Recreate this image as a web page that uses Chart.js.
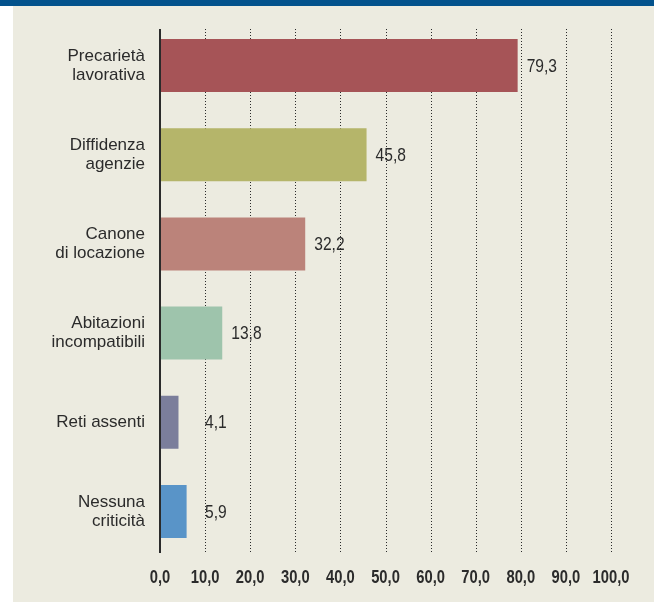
<!DOCTYPE html>
<html>
<head>
<meta charset="utf-8">
<script src="https://cdn.jsdelivr.net/npm/chart.js@4/dist/chart.umd.min.js"></script>
<style>
  html, body { margin: 0; padding: 0; background: #fff; }
  #wrap { position: relative; width: 654px; height: 603px; overflow: hidden; }
  #band { position: absolute; left: 0; top: 0; width: 654px; height: 6px; background: #03528c; }
  #panel { position: absolute; left: 13px; top: 6px; width: 641px; height: 596px; background: #ecebe0; }
  #c { position: absolute; left: 0; top: 0; }
</style>
</head>
<body>
<div id="wrap">
  <div id="band"></div>
  <div id="panel"></div>
  <canvas id="c" width="654" height="603"></canvas>
</div>
<script>
"use strict";

// dati
var categories = [
	["Precarietà", "lavorativa"],
	["Diffidenza", "agenzie"],
	["Canone", "di locazione"],
	["Abitazioni", "incompatibili"],
	"Reti assenti",
	["Nessuna", "criticità"]
];
var values = [79.3, 45.8, 32.2, 13.8, 4.1, 5.9];
var tickLabels = ["0,0", "10,0", "20,0", "30,0", "40,0", "50,0", "60,0", "70,0", "80,0", "90,0", "100,0"];
var barColors = ["#a65457", "#b5b56a", "#bb837a", "#9ec4ac", "#7b7e9b", "#5994c8"];

var FONT = "'Liberation Sans', Arial, sans-serif";
var INK = "#2b2b2b";

// testo "condensato": Liberation Sans schiacciato in orizzontale
function narrowText(ctx, text, x, y, align) {
	ctx.save();
	ctx.translate(x, y);
	ctx.scale(0.82, 1);
	ctx.textAlign = align;
	ctx.fillText(text, 0, 0);
	ctx.restore();
}

// griglia tratteggiata, asse, etichette
var gridPlugin = {
	id: "gridPlugin",
	beforeDatasetsDraw: function (chart) {
		var ctx = chart.ctx, x = chart.scales.x, area = chart.chartArea;
		var top = area.top + 8, bottom = area.bottom - 3;
		ctx.save();
		ctx.strokeStyle = INK;
		ctx.lineWidth = 1;
		ctx.setLineDash([1, 2]);
		for (var v = 10; v <= 100; v += 10) {
			var px = Math.round(x.getPixelForValue(v)) + 0.5;
			ctx.beginPath();
			ctx.moveTo(px, top);
			ctx.lineTo(px, bottom);
			ctx.stroke();
		}
		ctx.restore();
	},
	afterDatasetsDraw: function (chart) {
		var ctx = chart.ctx, x = chart.scales.x, area = chart.chartArea;
		ctx.save();
		ctx.strokeStyle = INK;
		ctx.lineWidth = 2;
		var px = x.getPixelForValue(0);
		ctx.beginPath();
		ctx.moveTo(px, area.top + 8);
		ctx.lineTo(px, area.bottom - 3);
		ctx.stroke();

		ctx.fillStyle = INK;
		ctx.textBaseline = "middle";

		// etichette valori
		ctx.font = "19px " + FONT;
		var minX = x.getPixelForValue(10);
		chart.getDatasetMeta(0).data.forEach(function (bar, i) {
			var lx = Math.max(bar.x + 9, minX);
			narrowText(ctx, values[i].toFixed(1).replace(".", ","), lx, bar.y + 1, "left");
		});

		// etichette asse x
		ctx.font = "bold 18px " + FONT;
		x.ticks.forEach(function (t, i) {
			narrowText(ctx, tickLabels[i], x.getPixelForValue(t.value), area.bottom + 22, "center");
		});
		ctx.restore();
	}
};

new Chart(document.getElementById("c"), {
	type: "bar",
	data: {
		labels: categories,
		datasets: [{
			data: values,
			backgroundColor: barColors,
			borderWidth: 0,
			categoryPercentage: 1,
			barPercentage: 0.595
		}]
	},
	options: {
		indexAxis: "y",
		responsive: false,
		animation: false,
		devicePixelRatio: 1,
		layout: { padding: { top: 21, right: 43, left: 0, bottom: 0 } },
		plugins: { legend: { display: false }, tooltip: { enabled: false } },
		scales: {
			x: {
				min: 0,
				max: 100,
				grid: { display: false, drawTicks: false },
				border: { display: false },
				afterFit: function (s) { s.height = 47; s.paddingLeft = 0; s.paddingRight = 0; },
				ticks: { stepSize: 10, display: false }
			},
			y: {
				grid: { display: false, drawTicks: false },
				border: { display: false },
				afterFit: function (s) { s.width = 160; s.paddingTop = 0; s.paddingBottom = 0; },
				ticks: {
					padding: 15,
					color: INK,
					font: { family: FONT, size: 17, lineHeight: 1.12 }
				}
			}
		}
	},
	plugins: [gridPlugin]
});
</script>
</body>
</html>
